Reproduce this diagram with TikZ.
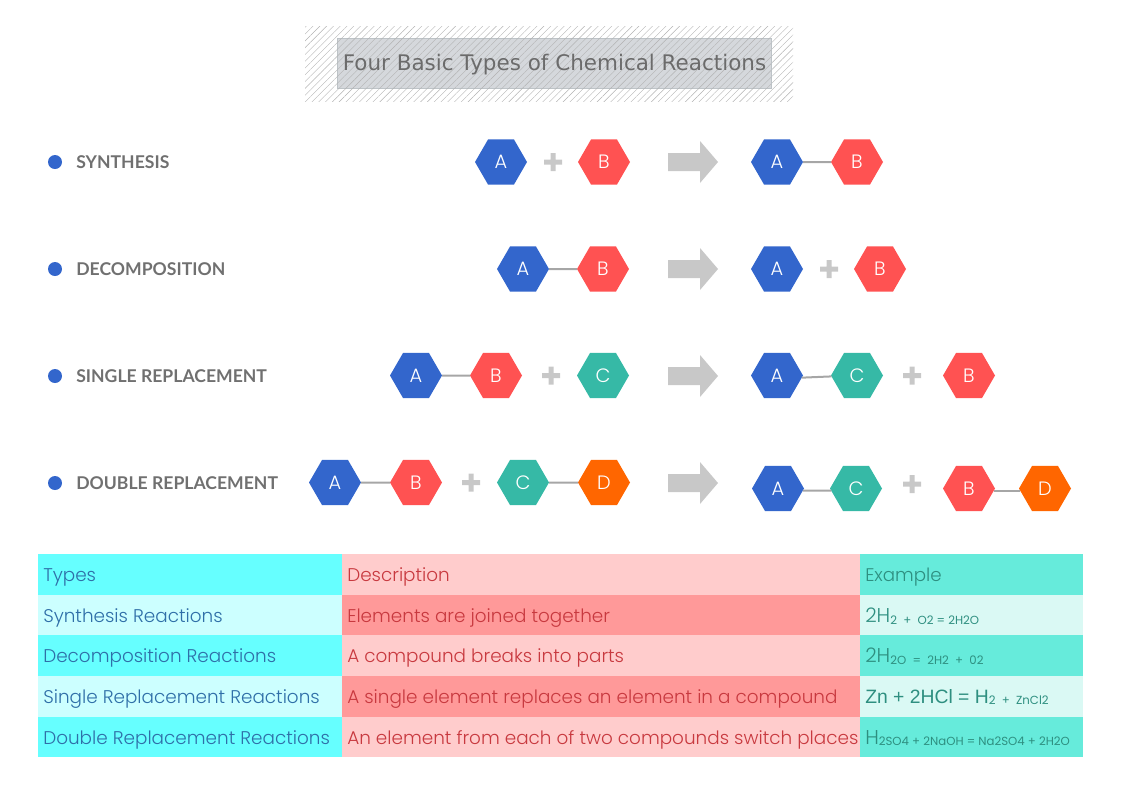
\documentclass[tikz,border=0pt]{standalone}
\usepackage{fontspec}
\usetikzlibrary{shapes.geometric,patterns.meta}
\setmainfont{Poppins}[UprightFont=* Light,BoldFont=* Medium]
\newfontfamily\titlefont{DejaVu Sans}
\newfontfamily\headfont{Lato}[UprightFont=* Bold]
\newfontfamily\zincfont{Liberation Sans}
\newfontfamily\smallfont{Poppins}
\definecolor{hexblue}{HTML}{3366CC}
\definecolor{hexred}{HTML}{FF5252}
\definecolor{hexteal}{HTML}{36B9A6}
\definecolor{hexorange}{HTML}{FF6600}
\definecolor{linkgrey}{HTML}{A6A6A6}
\definecolor{arrowgrey}{HTML}{C8C8C8}
\definecolor{cyanA}{HTML}{66FFFF}
\definecolor{cyanB}{HTML}{CCFFFF}
\definecolor{pinkA}{HTML}{FFCCCC}
\definecolor{pinkB}{HTML}{FF9999}
\definecolor{mintA}{HTML}{66EBDB}
\definecolor{mintB}{HTML}{DAF9F4}
\definecolor{txtblue}{HTML}{2F6FA8}
\definecolor{txtred}{HTML}{C8393F}
\definecolor{txtteal}{HTML}{2E8F80}
\definecolor{boxfill}{HTML}{D5D8DC}
\definecolor{boxline}{HTML}{BDC3C7}
\newcommand{\BIG}[1]{{\fontsize{15}{18}\selectfont #1}}
\newcommand{\ZBIG}[1]{{\zincfont\fontsize{14.5}{18}\selectfont #1}}
\newcommand{\SMA}[1]{{\smallfont\fontsize{8.8}{11}\selectfont\raisebox{-1.2pt}{#1}}}
\tikzset{
  x=0.75pt,y=-0.75pt,
  hexa/.style={regular polygon,regular polygon sides=6,
    minimum size=39pt,inner sep=0pt,outer sep=0pt,text=white,font=\fontsize{14.5}{16}\selectfont},
  hA/.style={hexa,fill=hexblue},
  hB/.style={hexa,fill=hexred},
  hC/.style={hexa,fill=hexteal},
  hD/.style={hexa,fill=hexorange},
  link/.style={draw=linkgrey,line width=1.5pt},
  bullet/.style={circle,fill=hexblue,minimum size=10.5pt,inner sep=0pt},
  head/.style={anchor=west,inner sep=0pt,text=black!56,font=\headfont\fontsize{13.2}{16}\selectfont},
  lab/.style={anchor=west,inner sep=0pt},
  lA/.style={lab,text=txtblue,yshift=-1.5pt,font=\fontsize{13.8}{16}\selectfont},
  lB/.style={lab,text=txtred,yshift=-1.5pt,font=\fontsize{13.8}{16}\selectfont},
  lC/.style={lab,text=txtteal,yshift=-1.5pt,font=\fontsize{13.7}{16}\selectfont},
  lD/.style={lab,text=txtteal},
  fat/.pic={\fill[arrowgrey] (-50,-9) -- (-18,-9) -- (-18,-21) -- (0,0) -- (-18,21) -- (-18,9) -- (-50,9) -- cycle;},
  plus/.pic={\fill[arrowgrey] (-9,-2.5) -- (-2.5,-2.5) -- (-2.5,-9) -- (2.5,-9) -- (2.5,-2.5) -- (9,-2.5) -- (9,2.5) -- (2.5,2.5) -- (2.5,9) -- (-2.5,9) -- (-2.5,2.5) -- (-9,2.5) -- cycle;},
}
\begin{document}
\begin{tikzpicture}
\useasboundingbox (0,0) rectangle (1123,794);
% title
\path[pattern={Lines[angle=45,distance=3.6pt,line width=0.3pt]},pattern color=black!30] (305,26) rectangle (793,101);
\node[draw=boxline,fill=boxfill,minimum width=325.5pt,minimum height=37.5pt,inner sep=0pt,anchor=north west] (title) at (337,38) {};
\path[pattern={Lines[angle=45,distance=3.6pt,line width=0.3pt]},pattern color=black!30] (337,38) rectangle (771,88);
\node[text=black!58,font=\titlefont\fontsize{16.1}{20}\selectfont,inner sep=0pt] (titletext) at (554.5,65) {Four Basic Types of Chemical Reactions};
% row 1
\node[bullet] (d1) at (55,162) {}; \node[head] (t1) at (76,162.5) {SYNTHESIS};
\node[hA] (a1) at (501,162) {A}; \pic at (553,162) {plus}; \node[hB] (b1) at (604,162) {B};
\pic at (718,162) {fat};
\node[hA] (a1r) at (777,162) {A}; \node[hB] (b1r) at (857,162) {B};
\draw[link] (a1r) -- (b1r);
% row 2
\node[bullet] (d2) at (55,269) {}; \node[head] (t2) at (76,269.5) {DECOMPOSITION};
\node[hA] (a2) at (523,269) {A}; \node[hB] (b2) at (603,269) {B};
\draw[link] (a2) -- (b2);
\pic at (718,269) {fat};
\node[hA] (a2r) at (777,269) {A}; \pic at (829,269) {plus}; \node[hB] (b2r) at (880,269) {B};
% row 3
\node[bullet] (d3) at (55,376) {}; \node[head] (t3) at (76,376.5) {SINGLE REPLACEMENT};
\node[hA] (a3) at (416,375.5) {A}; \node[hB] (b3) at (496,375.5) {B};
\draw[link] (a3) -- (b3);
\pic at (551,375.5) {plus}; \node[hC] (c3) at (603,375.5) {C};
\pic at (718,376) {fat};
\node[hA] (a3r) at (777,375.5) {A}; \node[hC] (c3r) at (857,375.5) {C};
\draw[link] (a3r.-5.5) -- (c3r.182.7);
\pic at (912,375.5) {plus}; \node[hB] (b3r) at (969,375.5) {B};
% row 4
\node[bullet] (d4) at (55,483) {}; \node[head] (t4) at (76,483.5) {DOUBLE REPLACEMENT};
\node[hA] (a4) at (335,482.5) {A}; \node[hB] (b4) at (416,482.5) {B};
\draw[link] (a4) -- (b4);
\pic at (471,482.5) {plus}; \node[hC] (c4) at (523,482.5) {C}; \node[hD] (d4h) at (604,482.5) {D};
\draw[link] (c4) -- (d4h);
\pic at (718,483) {fat};
\node[hA] (a4r) at (778,488.5) {A}; \node[hC] (c4r) at (856,488.5) {C};
\draw[link] (a4r.-5.5) -- (c4r.185.5);
\pic at (912,484) {plus}; \node[hB] (b4r) at (969,488.5) {B}; \node[hD] (d4r) at (1045,488.5) {D};
\draw[link] (b4r.-5.5) -- (d4r.185.5);
% table
\foreach \ya/\yb/\ca/\cb/\cc in {554/595/cyanA/pinkA/mintA,595/635/cyanB/pinkB/mintB,635/676/cyanA/pinkA/mintA,676/717/cyanB/pinkB/mintB,717/757/cyanA/pinkA/mintA}{
  \fill[\ca] (38,\ya) rectangle (342,\yb);
  \fill[\cb] (342,\ya) rectangle (860,\yb);
  \fill[\cc] (860,\ya) rectangle (1083,\yb);
}
\node[lA] (r0a) at (43,575) {Types};
\node[lA] (r1a) at (43,616) {Synthesis Reactions};
\node[lA] (r2a) at (43,656) {Decomposition Reactions};
\node[lA] (r3a) at (43,697) {Single Replacement Reactions};
\node[lA] (r4a) at (43,738) {Double Replacement Reactions};
\node[lB] (r0b) at (347,575) {Description};
\node[lB] (r1b) at (347,616) {Elements are joined together};
\node[lB] (r2b) at (347,656) {A compound breaks into parts};
\node[lB] (r3b) at (347,697) {A single element replaces an element in a compound};
\node[lB] (r4b) at (347,738) {An element from each of two compounds switch places};
\node[lC] (r0c) at (865,575) {Example};
\node[lD] (r1c) at (865,616) {\BIG{2H}\SMA{2\ \ +\ \ O2 = 2H2O}};
\node[lD] (r2c) at (865,656) {\BIG{2H}\SMA{2O\ \ =\ \ 2H2\ \ +\ \ 02}};
\node[lD] (r3c) at (865,697) {\ZBIG{Zn + 2HCl = H}\SMA{2\ \ +\ \ ZnCl2}};
\node[lD] (r4c) at (865,738) {\BIG{H}\SMA{2SO4 + 2NaOH = Na2SO4 + 2H2O}};
\end{tikzpicture}
\end{document}
